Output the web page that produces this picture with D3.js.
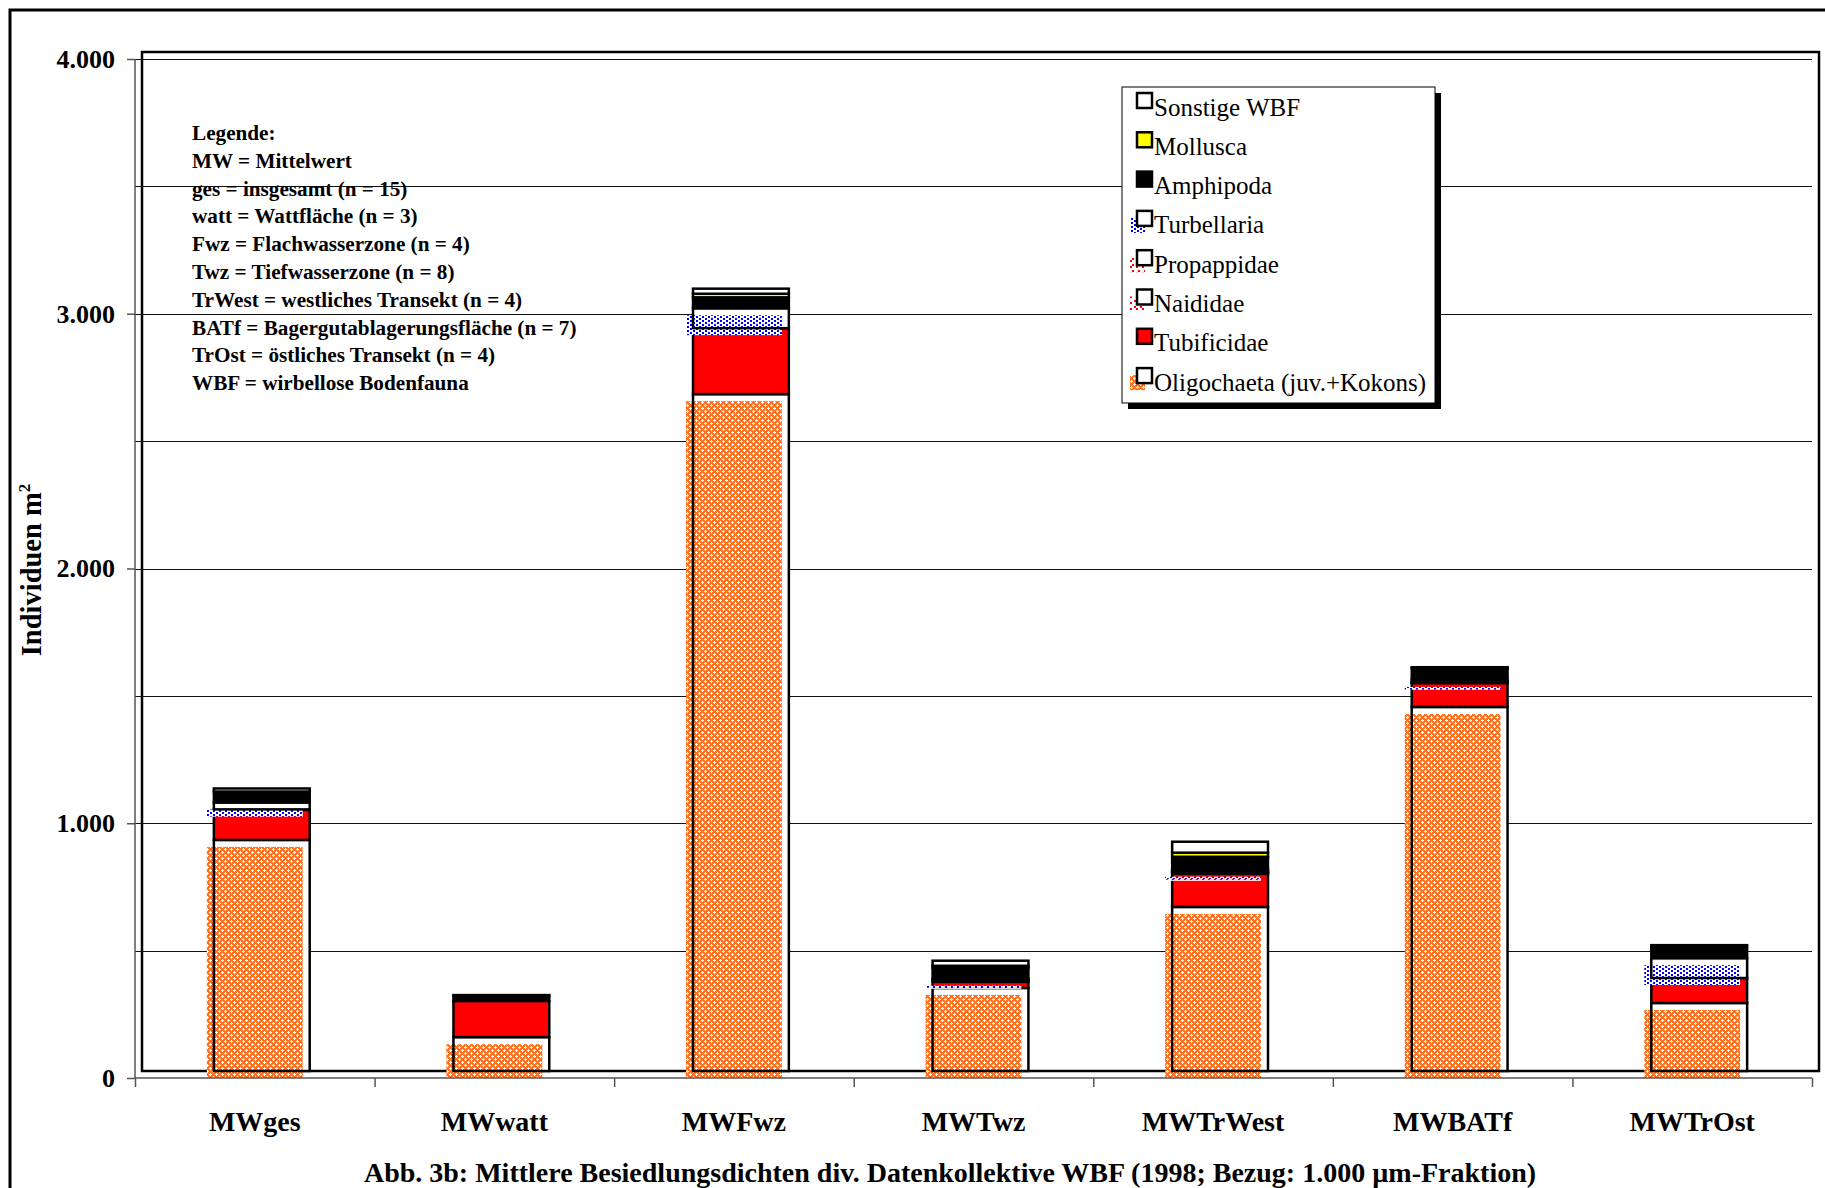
<!DOCTYPE html>
<html><head><meta charset="utf-8">
<script src="https://cdn.jsdelivr.net/npm/d3@7/dist/d3.min.js"></script>
<style>body{margin:0;background:#fff}svg{display:block}</style>
</head><body>
<svg id="c" width="1825" height="1188"></svg>
<script>
// ---------- data ----------
const categories = ["MWges","MWwatt","MWFwz","MWTwz","MWTrWest","MWBATf","MWTrOst"];
const oligochaeta = [907, 133, 2657, 326, 644, 1429, 267];
const tubificidae = [118, 142, 259, 24, 130, 94, 98];
const naididae    = [2, 0, 0, 4, 6, 2, 0];
const propappidae = [0, 0, 0, 0, 2, 0, 0];
const turbellaria = [27, 0, 78, 8, 8, 10, 78];
const amphipoda   = [43, 20, 43, 43, 51, 47, 51];
const mollusca    = [0, 0, 14, 8, 16, 0, 0];
const sonstige    = [12, 3, 20, 20, 43, 3, 0];
const seriesKeys   = ["oli","tub","nai","pro","tur","amp","mol","son"];
const seriesLabels = ["Oligochaeta (juv.+Kokons)","Tubificidae","Naididae","Propappidae","Turbellaria","Amphipoda","Mollusca","Sonstige WBF"];
const yTickValues = [0,1000,2000,3000,4000];
const yTickLabels = ["0","1.000","2.000","3.000","4.000"];
const gridValues  = [500,1000,1500,2000,2500,3000,3500,4000];
const legendNotes = ["Legende:","MW = Mittelwert","ges = insgesamt (n = 15)","watt = Wattfläche (n = 3)","Fwz = Flachwasserzone (n = 4)","Twz = Tiefwasserzone (n = 8)","TrWest = westliches Transekt (n = 4)","BATf = Bagergutablagerungsfläche (n = 7)","TrOst = östliches Transekt (n = 4)","WBF = wirbellose Bodenfauna"];
const yTitle = "Individuen m";
const chartTitle = "Abb. 3b: Mittlere Besiedlungsdichten div. Datenkollektive WBF (1998; Bezug: 1.000 µm-Fraktion)";

// ---------- setup ----------
const FONT = "'Liberation Serif','Times New Roman',serif";
const svg = d3.select("#c");
const defs = svg.append("defs");
function pattern(id, w, h, bg, fg, cells){
  const p = defs.append("pattern").attr("id", id).attr("patternUnits","userSpaceOnUse")
    .attr("width", w).attr("height", h);
  p.append("rect").attr("width", w).attr("height", h).attr("fill", bg);
  cells.forEach(c => p.append("rect").attr("x", c[0]).attr("y", c[1]).attr("width", c[2]).attr("height", c[3]).attr("fill", fg));
}
pattern("pOli", 6, 6, "#ff7326", "#ffffff",
  [[0,0,1,1],[1,0,1,1],[5,0,1,1],[0,1,1,1],[0,5,1,1],[3,3,1,1],[2,3,1,1],[4,3,1,1],[3,2,1,1],[3,4,1,1]]);
pattern("pTur", 6, 4, "#ffffff", "#0000ff", [[0,0,2,2],[3,2,2,2]]);
pattern("pNai", 6, 6, "#ffffff", "#ff0000", [[0,0,2,2],[2,2,2,2]]);
pattern("pPro", 6, 6, "#ffffff", "#ff0000", [[4,0,2,2],[2,2,2,2]]);

const style = {
  oli:{pat:"url(#pOli)"}, tub:{fill:"#ff0000"}, nai:{pat:"url(#pNai)"}, pro:{pat:"url(#pPro)"},
  tur:{pat:"url(#pTur)"}, amp:{fill:"#000000"}, mol:{fill:"#ffff00"}, son:{fill:"#ffffff"}
};
const seriesData = {oli:oligochaeta, tub:tubificidae, nai:naididae, pro:propappidae, tur:turbellaria, amp:amphipoda, mol:mollusca, son:sonstige};

const axL = 135, axR = 1812, axT = 59, axB = 1078;
const DX = 7, DY = -7;  // back wall offset
const y = d3.scaleLinear().domain([0,4000]).range([axB, axT]);
const x = d3.scaleBand().domain(categories).range([axL, axR]).paddingInner(0.6).paddingOuter(0.3);
const xi = d3.scaleLinear().domain([0, categories.length]).range([axL, axR]);

svg.append("rect").attr("width",1825).attr("height",1188).attr("fill","#fff");
// outer border
svg.append("rect").attr("x",10).attr("y",10).attr("width",1840).attr("height",1220)
  .attr("fill","none").attr("stroke","#000").attr("stroke-width",3);

// back wall frame
svg.append("rect").attr("x",axL+DX).attr("y",axT+DY).attr("width",axR-axL).attr("height",axB-axT)
  .attr("fill","none").attr("stroke","#000").attr("stroke-width",2.5);

// gridlines
svg.append("g").selectAll("line").data(gridValues).join("line")
  .attr("x1",axL).attr("x2",axR)
  .attr("y1",d=>Math.round(y(d))+0.5).attr("y2",d=>Math.round(y(d))+0.5)
  .attr("stroke","#111").attr("stroke-width",1.2);

// bars
const rows = categories.map((c,i)=>{const r={cat:c}; seriesKeys.forEach(k=>r[k]=seriesData[k][i]); return r;});
const stacked = d3.stack().keys(seriesKeys)(rows);
const bw = x.bandwidth();
const gBars = svg.append("g");
stacked.forEach(layer=>{
  const st = style[layer.key];
  layer.forEach(d=>{
    const v = d[1]-d[0];
    if (v <= 0) return;
    const xb = x(d.data.cat) + DX;
    const yt = y(d[1]) + DY;
    const h = y(d[0]) - y(d[1]);
    if (st.pat){
      gBars.append("rect").attr("x",xb).attr("y",yt).attr("width",bw).attr("height",h).attr("fill","#fff");
      gBars.append("rect").attr("x",xb-DX).attr("y",yt-DY).attr("width",bw).attr("height",h).attr("fill",st.pat);
      gBars.append("rect").attr("x",xb).attr("y",yt).attr("width",bw).attr("height",h)
        .attr("fill","none").attr("stroke","#000").attr("stroke-width",2.5);
    } else {
      gBars.append("rect").attr("x",xb).attr("y",yt).attr("width",bw).attr("height",h)
        .attr("fill",st.fill).attr("stroke","#000").attr("stroke-width",2.5);
    }
  });
});

// y axis
const yAxis = d3.axisLeft(y).tickValues(yTickValues).tickSize(8).tickPadding(12)
  .tickFormat((d,i)=>yTickLabels[i]);
const gy = svg.append("g").attr("transform",`translate(${axL},0)`).call(yAxis);
gy.select(".domain").attr("stroke","#555").attr("stroke-width",1.5).attr("d",`M-0,${axT}V${axB}`);
gy.selectAll(".tick line").attr("stroke","#555").attr("stroke-width",1.5);
gy.selectAll(".tick text").attr("font-family",FONT).attr("font-weight","bold").attr("font-size",26).attr("fill","#000");

// x axis
const xAxis = d3.axisBottom(xi).tickValues(d3.range(categories.length+1)).tickSize(9).tickFormat("");
const gx = svg.append("g").attr("transform",`translate(0,${axB})`).call(xAxis);
gx.select(".domain").attr("stroke","#555").attr("stroke-width",1.5).attr("d",`M${axL},0H${axR}`);
gx.selectAll(".tick line").attr("stroke","#555").attr("stroke-width",1.5);
svg.append("g").selectAll("text").data(categories).join("text")
  .attr("x",d=>x(d)+bw/2).attr("y",1131).attr("text-anchor","middle")
  .attr("font-family",FONT).attr("font-weight","bold").attr("font-size",28).text(d=>d);

// y title
const yt = svg.append("text").attr("transform","translate(41,570) rotate(-90)").attr("text-anchor","middle")
  .attr("font-family",FONT).attr("font-weight","bold").attr("font-size",28.5);
yt.append("tspan").text(yTitle);
yt.append("tspan").attr("font-size",17).attr("dy",-11).text("2");

// chart title
svg.append("text").attr("x",950).attr("y",1182).attr("text-anchor","middle")
  .attr("font-family",FONT).attr("font-weight","bold").attr("font-size",28).text(chartTitle);

// notes
svg.append("g").selectAll("text").data(legendNotes).join("text")
  .attr("x",192).attr("y",(d,i)=>140+i*27.8)
  .attr("font-family",FONT).attr("font-weight","bold").attr("font-size",21.2).text(d=>d);

// legend
const lx=1122, ly=87, lw=313, lh=316;
svg.append("rect").attr("x",lx+6).attr("y",ly+6).attr("width",lw).attr("height",lh).attr("fill","#000");
svg.append("rect").attr("x",lx).attr("y",ly).attr("width",lw).attr("height",lh).attr("fill","#fff").attr("stroke","#000").attr("stroke-width",1);
const legKeys = seriesKeys.slice().reverse();
const legLabels = seriesLabels.slice().reverse();
legKeys.forEach((k,i)=>{
  const st = style[k];
  const bx = 1137, by = 93 + i*39.3;
  if (st.pat){
    svg.append("rect").attr("x",bx-DX).attr("y",by-DY).attr("width",15).attr("height",15).attr("fill",st.pat);
    svg.append("rect").attr("x",bx).attr("y",by).attr("width",15).attr("height",15).attr("fill","#fff").attr("stroke","#000").attr("stroke-width",2.5);
  } else {
    svg.append("rect").attr("x",bx).attr("y",by).attr("width",15).attr("height",15).attr("fill",st.fill).attr("stroke","#000").attr("stroke-width",2.5);
  }
  svg.append("text").attr("x",1154).attr("y",by+22.5).attr("font-family",FONT).attr("font-size",25).text(legLabels[i]);
});
</script>
</body></html>
